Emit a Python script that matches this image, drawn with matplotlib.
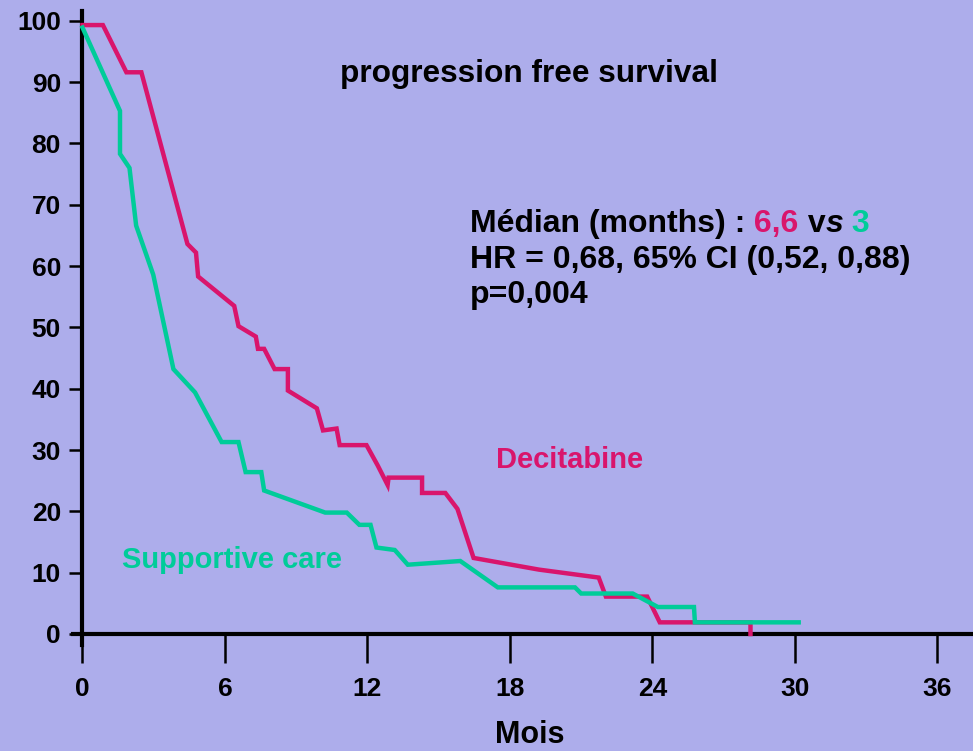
import matplotlib
matplotlib.use("Agg")
import matplotlib.pyplot as plt

plt.rcParams["font.family"] = ["Liberation Sans", "DejaVu Sans"]
plt.rcParams["font.weight"] = "bold"

# Kaplan-Meier style progression free survival curves (months, % of patients)
decitabine_months = [0.0, 0.86, 1.85, 2.48, 4.42, 4.78, 4.87, 6.39, 6.57, 7.30, 7.39,
                     7.65, 8.09, 8.65, 8.65, 9.87, 10.13, 10.70, 10.83, 11.96, 12.43,
                     12.85, 12.89, 14.30, 14.30, 15.28, 15.79, 16.47, 19.22, 21.74,
                     22.04, 23.78, 24.31, 28.13, 28.13]
decitabine_pct = [99.3, 99.3, 91.6, 91.6, 63.6, 62.2, 58.3, 53.5, 50.2, 48.5, 46.5,
                  46.5, 43.2, 43.2, 39.7, 36.8, 33.2, 33.5, 30.8, 30.8, 27.5,
                  24.3, 25.5, 25.5, 23.0, 23.0, 20.4, 12.4, 10.5, 9.2,
                  6.1, 6.1, 1.9, 1.9, 0.0]

supportive_months = [0.0, 1.58, 1.58, 1.98, 2.26, 2.98, 3.83, 4.74, 5.86, 6.57, 6.87,
                     7.53, 7.65, 10.22, 11.13, 11.66, 12.13, 12.38, 13.15, 13.70,
                     15.91, 17.49, 20.74, 21.00, 23.17, 24.23, 25.75, 25.79, 30.16]
supportive_pct = [98.9, 85.3, 78.3, 76.0, 66.6, 58.6, 43.2, 39.4, 31.3, 31.3, 26.4,
                  26.4, 23.4, 19.8, 19.8, 17.8, 17.8, 14.1, 13.7, 11.3,
                  11.9, 7.6, 7.6, 6.6, 6.6, 4.4, 4.4, 1.9, 1.9]

x_ticks = [0, 6, 12, 18, 24, 30, 36]
y_ticks = [0, 10, 20, 30, 40, 50, 60, 70, 80, 90, 100]

BG = "#ADADEB"
MAGENTA = "#D9156C"
GREEN = "#00CC99"

fig = plt.figure(figsize=(9.73, 7.51), dpi=100, facecolor=BG)
ax = fig.add_axes([0.075, 0.1411, 0.925, 0.8443])
ax.set_facecolor(BG)

ax.plot(decitabine_months, decitabine_pct, color=MAGENTA, lw=3.2,
        solid_joinstyle="miter", clip_on=False, zorder=3)
ax.plot(supportive_months, supportive_pct, color=GREEN, lw=3.2,
        solid_joinstyle="miter", clip_on=False, zorder=4)

ax.set_xlim(-0.4, 37.5)
ax.set_ylim(-1.8, 101.6)

for side in ("top", "right"):
    ax.spines[side].set_visible(False)
ax.spines["left"].set_position(("data", 0))
ax.spines["bottom"].set_position(("data", 0))
for side in ("left", "bottom"):
    ax.spines[side].set_linewidth(3.0)
    ax.spines[side].set_color("black")

ax.set_xticks(x_ticks)
ax.set_xticklabels([str(v) for v in x_ticks])
ax.set_yticks(y_ticks)
ax.set_yticklabels([str(v) for v in y_ticks])
ax.tick_params(axis="x", direction="out", length=21, width=1.8, pad=10,
               labelsize=19, colors="black")
ax.tick_params(axis="y", direction="out", length=9.5, width=1.8, pad=6,
               labelsize=19, colors="black")
for lab in ax.get_xticklabels() + ax.get_yticklabels():
    lab.set_fontweight("bold")

fig.text(530 / 973, 1 - 735 / 751, "Mois", ha="center", va="center",
         fontsize=22, fontweight="bold", color="black")

fig.text(529 / 973, 1 - 74 / 751, "progression free survival", ha="center",
         va="center", fontsize=22.8, fontweight="bold", color="black")

# Summary statistics, first line in several colours
txt_kw = dict(fontsize=23, fontweight="bold")
t = fig.text(470 / 973, 1 - 232 / 751, "Médian (months) :", va="baseline",
             color="black", **txt_kw)
t = ax.annotate(" 6,6", xycoords=t, xy=(1, 0), va="bottom", color=MAGENTA, **txt_kw)
t = ax.annotate(" v", xycoords=t, xy=(1, 0), va="bottom", color="black", **txt_kw)
t = ax.annotate("s", xycoords=t, xy=(1, 0), va="bottom", color="black",
                fontstyle="italic", **txt_kw)
t = ax.annotate(" 3", xycoords=t, xy=(1, 0), va="bottom", color=GREEN, **txt_kw)
fig.text(470 / 973, 1 - 268 / 751, "HR = 0,68, 65% CI (0,52, 0,88)", va="baseline",
         color="black", **txt_kw)
fig.text(470 / 973, 1 - 303 / 751, "p=0,004", va="baseline", color="black", **txt_kw)

fig.text(570 / 973, 1 - 460 / 751, "Decitabine", ha="center", va="center",
         fontsize=21, fontweight="bold", color=MAGENTA)
fig.text(232 / 973, 1 - 560 / 751, "Supportive care", ha="center", va="center",
         fontsize=21, fontweight="bold", color=GREEN)

fig.savefig("out.png", dpi=100, facecolor=BG)
